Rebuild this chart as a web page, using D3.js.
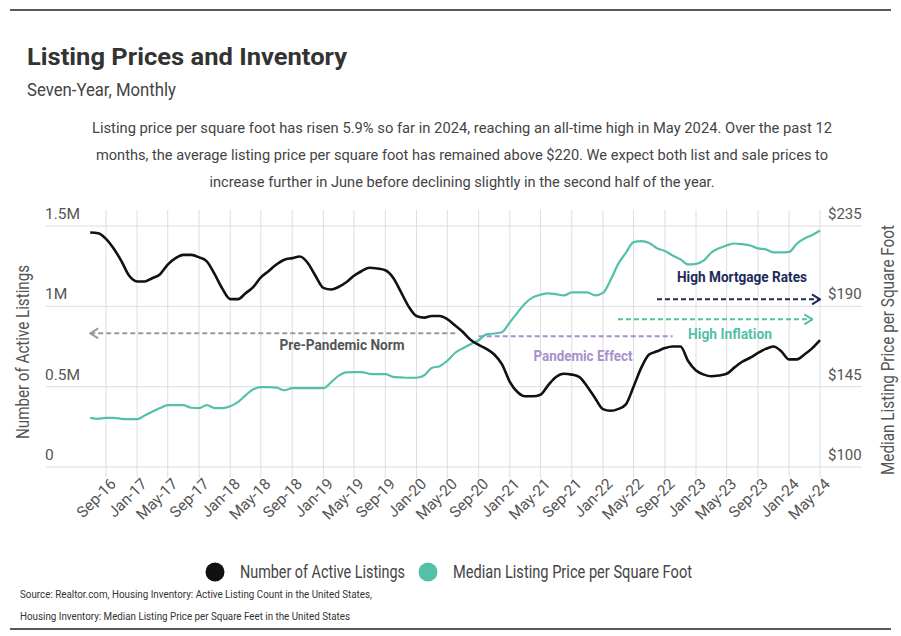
<!DOCTYPE html>
<html>
<head>
<meta charset="utf-8">
<script src="https://cdn.jsdelivr.net/npm/d3@7"></script>
<style>
  body { margin: 0; background: #fff; }
  svg { display: block; }
  text { font-family: Roboto, "Noto Sans", sans-serif; }
</style>
</head>
<body>
<svg id="chart" width="901" height="636"></svg>
<script>
// monthly series, Jul-16 .. May-24
const startMonth = new Date(2016, 6, 1);
const endMonth = new Date(2024, 4, 1);

// number of active listings, millions
const listings = [1.46,1.455,1.42,1.36,1.28,1.19,1.155,1.155,1.175,1.20,
  1.26,1.30,1.32,1.32,1.305,1.28,1.20,1.11,1.045,1.045,
  1.08,1.12,1.18,1.22,1.26,1.29,1.30,1.31,1.27,1.19,
  1.115,1.105,1.12,1.15,1.19,1.22,1.24,1.235,1.225,1.18,
  1.09,1.0,0.94,0.93,0.94,0.94,0.92,0.88,0.84,0.79,
  0.76,0.735,0.70,0.64,0.53,0.465,0.44,0.44,0.45,0.51,
  0.56,0.58,0.575,0.56,0.50,0.43,0.36,0.35,0.36,0.39,
  0.50,0.62,0.70,0.72,0.74,0.75,0.75,0.66,0.60,0.575,
  0.565,0.57,0.58,0.62,0.655,0.68,0.71,0.735,0.75,0.72,
  0.67,0.67,0.70,0.74,0.79];

// median listing price per square foot, $
const pricePerSqft = [127.5,127.0,127.5,127.5,127.0,126.8,126.8,129.0,131.0,133.0,
  134.7,134.7,134.7,133.2,133.0,134.7,133.0,133.0,134.0,136.5,
  140.0,143.5,144.7,144.7,144.5,143.0,144.2,144.2,144.2,144.2,
  144.2,147.5,151.0,153.0,153.1,153.1,152.2,152.0,152.0,150.5,
  150.2,150.0,150.0,151.4,155.5,156.5,159.5,164.0,166.5,168.8,
  171.0,174.3,174.8,175.5,181.0,186.6,191.5,195.0,196.5,197.3,
  196.8,196.1,197.8,197.8,197.8,196.1,197.5,205.0,213.5,220.0,
  226.0,226.5,225.5,222.5,221.0,218.5,216.3,213.5,213.8,215.7,
  220.0,222.5,224.1,225.2,224.8,224.1,222.5,221.9,220.2,220.2,
  220.5,225.2,228.0,230.0,232.5];

const tickLabels = ['Sep-16','Jan-17','May-17','Sep-17','Jan-18','May-18','Sep-18','Jan-19',
  'May-19','Sep-19','Jan-20','May-20','Sep-20','Jan-21','May-21','Sep-21','Jan-22',
  'May-22','Sep-22','Jan-23','May-23','Sep-23','Jan-24','May-24'];
const leftTicks = [0, 0.5, 1, 1.5];
const leftTickLabels = ['0', '0.5M', '1M', '1.5M'];
const rightTicks = [100, 145, 190, 235];

const descLines = [
  'Listing price per square foot has risen 5.9% so far in 2024, reaching an all-time high in May 2024. Over the past 12',
  'months, the average listing price per square foot has remained above $220. We expect both list and sale prices to',
  'increase further in June before declining slightly in the second half of the year.'
];
const descWidths = [740, 732, 505];
const sourceLines = [
  'Source:  Realtor.com, Housing Inventory: Active Listing Count in the United States,',
  'Housing Inventory: Median Listing Price per Square Feet in the United States'
];
const sourceWidths = [352, 330];

const black = '#111111';
const teal = '#55c0a9';

const parseTick = d3.timeParse('%b-%y');
const months = d3.timeMonth.range(startMonth, d3.timeMonth.offset(endMonth, 1));
const tickDates = tickLabels.map(parseTick);

// squeeze a text to the width it has in the original (the original uses a narrow face)
function fit(sel, w) {
  return sel.attr('textLength', w).attr('lengthAdjust', 'spacingAndGlyphs');
}

const svg = d3.select('#chart');

const x = d3.scaleTime()
  .domain([tickDates[0], tickDates[tickDates.length - 1]])
  .range([106, 820]);
const yL = d3.scaleLinear().domain([0, 1.5]).range([467, 226]);
const yR = d3.scaleLinear().domain([100, 235]).range([467, 226]);

// top and bottom rules
svg.append('line').attr('x1', 10).attr('x2', 891).attr('y1', 10).attr('y2', 10)
  .attr('stroke', '#222').attr('stroke-width', 1.5);
svg.append('line').attr('x1', 10).attr('x2', 891).attr('y1', 629).attr('y2', 629)
  .attr('stroke', '#222').attr('stroke-width', 1.5);

// titles
fit(svg.append('text').attr('x', 27).attr('y', 65)
  .attr('font-weight', 700).attr('font-size', 24.5).attr('fill', '#333')
  .text('Listing Prices and Inventory'), 320);
fit(svg.append('text').attr('x', 27).attr('y', 96)
  .attr('font-size', 17.5).attr('fill', '#444')
  .text('Seven-Year, Monthly'), 149);

svg.append('g').selectAll('text').data(descLines).join('text')
  .attr('x', 462).attr('y', (d, i) => 133 + i * 27)
  .attr('text-anchor', 'middle').attr('font-size', 15.5).attr('fill', '#444')
  .attr('textLength', (d, i) => descWidths[i]).attr('lengthAdjust', 'spacingAndGlyphs')
  .text(d => d);

// grid
const grid = svg.append('g').attr('stroke', '#dedede').attr('stroke-width', 1);
grid.selectAll('line.h').data(leftTicks).join('line')
  .attr('class', 'h')
  .attr('x1', 46).attr('x2', 862)
  .attr('y1', d => yL(d)).attr('y2', d => yL(d));
grid.selectAll('line.v').data(tickDates).join('line')
  .attr('class', 'v')
  .attr('x1', d => x(d)).attr('x2', d => x(d))
  .attr('y1', 210).attr('y2', 478);

// y tick labels
svg.append('g').selectAll('text').data(leftTicks).join('text')
  .attr('x', 45).attr('y', d => yL(d) - 7)
  .attr('font-size', 15.5).attr('fill', '#555')
  .text((d, i) => leftTickLabels[i]);
svg.append('g').selectAll('text').data(rightTicks).join('text')
  .attr('x', 828).attr('y', d => yR(d) - 7)
  .attr('font-size', 15).attr('fill', '#555')
  .text(d => '$' + d);

// x tick labels
svg.append('g').selectAll('text').data(tickDates).join('text')
  .attr('transform', d => `translate(${x(d) + 7},${481}) rotate(-45)`)
  .attr('text-anchor', 'end').attr('dy', '0.35em')
  .attr('font-size', 15.5).attr('fill', '#555')
  .text((d, i) => tickLabels[i]);

// axis titles
fit(svg.append('text')
  .attr('transform', 'translate(29,352) rotate(-90)')
  .attr('text-anchor', 'middle').attr('font-size', 18).attr('fill', '#555')
  .text('Number of Active Listings'), 174);
fit(svg.append('text')
  .attr('transform', 'translate(894,350) rotate(-90)')
  .attr('text-anchor', 'middle').attr('font-size', 18).attr('fill', '#555')
  .text('Median Listing Price per Square Foot'), 250);

// arrow markers
const defs = svg.append('defs');
function marker(id, color) {
  defs.append('marker').attr('id', id)
    .attr('viewBox', '0 0 10 12').attr('refX', 9).attr('refY', 6)
    .attr('markerWidth', 10).attr('markerHeight', 12)
    .attr('markerUnits', 'userSpaceOnUse').attr('orient', 'auto')
    .append('path').attr('d', 'M1,1 L9,6 L1,11')
    .attr('fill', 'none').attr('stroke', color).attr('stroke-width', 2);
}
marker('arrGray', '#9a9a9a');
marker('arrTeal', teal);
marker('arrNavy', '#1f2a5a');

const annotations = [
  { label: 'Pre-Pandemic Norm', from: new Date(2020, 5, 1), to: new Date(2016, 6, 1), v: 0.832, axis: 'L',
    color: '#9a9a9a', text: '#555', marker: 'arrGray', tx: 342, ty: 350, w: 125 },
  { label: 'Pandemic Effect', from: new Date(2020, 8, 1), to: new Date(2022, 9, 1), v: 0.814, axis: 'L',
    color: '#a88fcc', text: '#a88fcc', marker: null, tx: 583, ty: 361, w: 99 },
  { label: 'High Inflation', from: new Date(2022, 2, 1), to: new Date(2024, 3, 1), v: 182.7, axis: 'R',
    color: teal, text: teal, marker: 'arrTeal', tx: 730, ty: 339, w: 84 },
  { label: 'High Mortgage Rates', from: new Date(2022, 7, 1), to: new Date(2024, 4, 1), v: 193.9, axis: 'R',
    color: '#1f2a5a', text: '#1f2a5a', marker: 'arrNavy', tx: 742, ty: 282, w: 130 }
];

const ann = svg.append('g');
annotations.forEach(a => {
  const yy = a.axis === 'L' ? yL(a.v) : yR(a.v);
  const line = ann.append('line')
    .attr('x1', x(a.from)).attr('x2', x(a.to))
    .attr('y1', yy).attr('y2', yy)
    .attr('stroke', a.color).attr('stroke-width', 2)
    .attr('stroke-dasharray', '5,3');
  if (a.marker) line.attr('marker-end', `url(#${a.marker})`);
  fit(ann.append('text')
    .attr('x', a.tx).attr('y', a.ty)
    .attr('text-anchor', 'middle').attr('font-weight', 700)
    .attr('font-size', 15.5).attr('fill', a.text)
    .text(a.label), a.w);
});

// lines
const lineL = d3.line().x((d, i) => x(months[i])).y(d => yL(d)).curve(d3.curveMonotoneX);
const lineR = d3.line().x((d, i) => x(months[i])).y(d => yR(d)).curve(d3.curveMonotoneX);

svg.append('path').datum(pricePerSqft)
  .attr('d', lineR).attr('fill', 'none')
  .attr('stroke', teal).attr('stroke-width', 2.2);
svg.append('path').datum(listings)
  .attr('d', lineL).attr('fill', 'none')
  .attr('stroke', black).attr('stroke-width', 2.6);

// legend
const legendItems = [
  { label: 'Number of Active Listings', color: black, w: 165 },
  { label: 'Median Listing Price per Square Foot', color: teal, w: 239 }
];
const legend = svg.append('g');
let lx = 215;
legendItems.forEach(item => {
  legend.append('circle').attr('cx', lx).attr('cy', 572).attr('r', 9.5).attr('fill', item.color);
  fit(legend.append('text')
    .attr('x', lx + 25).attr('y', 578)
    .attr('font-size', 18.5).attr('fill', '#444')
    .text(item.label), item.w);
  lx += 25 + item.w + 23;
});

// source
svg.append('g').selectAll('text').data(sourceLines).join('text')
  .attr('x', 20).attr('y', (d, i) => 598 + i * 22)
  .attr('font-size', 11).attr('fill', '#333')
  .attr('textLength', (d, i) => sourceWidths[i]).attr('lengthAdjust', 'spacingAndGlyphs')
  .text(d => d);
</script>
</body>
</html>
